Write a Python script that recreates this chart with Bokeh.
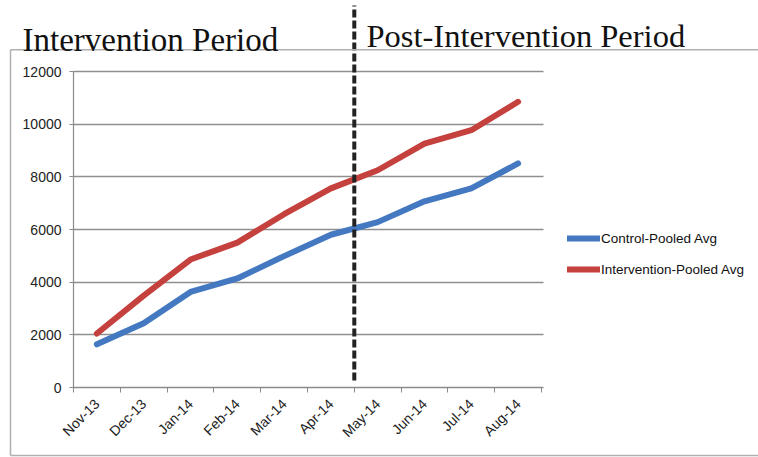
from bokeh.plotting import figure
from bokeh.models import (Range1d, FixedTicker, Label, Arrow, Legend, LegendItem,
                          ColumnDataSource)
from bokeh.embed import file_html
from bokeh.resources import INLINE
import math

months = ["Nov-13", "Dec-13", "Jan-14", "Feb-14", "Mar-14", "Apr-14",
          "May-14", "Jun-14", "Jul-14", "Aug-14"]
control_pooled = [1640, 2440, 3630, 4140, 4990, 5800, 6280, 7070, 7560, 8510]
intervention_pooled = [2050, 3490, 4860, 5500, 6580, 7560, 8250, 9260, 9770, 10850]
y_ticks = [0, 2000, 4000, 6000, 8000, 10000, 12000]
split_after = "Apr-14"

W, H = 758, 457
# where the chart's plot area sits on the canvas (pixels)
PL, PT, PR, PB = 73, 71, 541, 387
YMAX = 12000

n = len(months)

def dx(px):
    return (px - PL) * n / (PR - PL)

def dy(py):
    return (PB - py) * YMAX / (PB - PT)

xpos = [i + 0.5 for i in range(n)]
src = ColumnDataSource(dict(x=xpos, c=control_pooled, iv=intervention_pooled))

p = figure(width=W, height=H, output_backend="svg", toolbar_location=None,
           x_range=Range1d(dx(0), dx(W)), y_range=Range1d(dy(H), dy(0)),
           min_border=0, min_border_left=0, min_border_right=0,
           min_border_top=0, min_border_bottom=0)
p.outline_line_color = None
p.background_fill_color = "white"
p.border_fill_color = "white"

# axes drawn at the data origin
AX = "#8a8a8a"
p.xaxis.fixed_location = 0
p.xaxis.bounds = (0, n)
p.xaxis.ticker = FixedTicker(ticks=xpos, minor_ticks=list(range(n + 1)))
p.xaxis.major_label_overrides = {x: m for x, m in zip(xpos, months)}
p.xaxis.major_label_orientation = math.pi / 4
p.xaxis.major_tick_line_color = None
p.xaxis.minor_tick_line_color = AX
p.xaxis.minor_tick_out = 5
p.xaxis.minor_tick_in = 0
p.xaxis.axis_line_color = AX
p.xaxis.axis_line_width = 1.2
p.xaxis.major_label_text_font = "Liberation Sans"
p.xaxis.major_label_text_font_size = "14px"
p.xaxis.major_label_text_color = "#222222"
p.xaxis.major_label_standoff = 8

p.yaxis.fixed_location = 0
p.yaxis.bounds = (0, YMAX)
p.yaxis.ticker = FixedTicker(ticks=y_ticks, minor_ticks=[])
p.yaxis.major_tick_out = 4
p.yaxis.major_tick_in = 0
p.yaxis.major_tick_line_color = AX
p.yaxis.axis_line_color = AX
p.yaxis.axis_line_width = 1.2
p.yaxis.minor_tick_line_color = None
p.yaxis.major_label_text_font = "Liberation Sans"
p.yaxis.major_label_text_font_size = "14px"
p.yaxis.major_label_text_color = "#222222"
p.yaxis.major_label_standoff = 8

p.xgrid.grid_line_color = None
grid_done = False
try:
    p.ygrid.cross_bounds = (0, n + 0.04)
    grid_done = True
except Exception:
    grid_done = False
if grid_done:
    p.ygrid.ticker = FixedTicker(ticks=y_ticks)
    p.ygrid.grid_line_color = "#8f8f8f"
    p.ygrid.grid_line_width = 1.5
else:
    p.ygrid.grid_line_color = None
    p.segment(x0=0, x1=n + 0.04, y0=y_ticks, y1=y_ticks,
              line_color="#8f8f8f", line_width=1.5)

# series
r_c = p.line("x", "c", source=src, line_color="#4479C2", line_width=6,
             line_join="round", line_cap="round")
r_i = p.line("x", "iv", source=src, line_color="#C5413E", line_width=6,
             line_join="round", line_cap="round")

legend = Legend(items=[LegendItem(label="Control-Pooled Avg", renderers=[r_c]),
                       LegendItem(label="Intervention-Pooled Avg", renderers=[r_i])],
                location=(567, H - 279), padding=0, margin=0, spacing=11,
                glyph_width=33, glyph_height=20, label_height=20, label_standoff=1,
                label_text_font="Liberation Sans", label_text_font_size="13.5px",
                label_text_color="#111111", border_line_color=None,
                background_fill_alpha=0)
p.add_layout(legend, "center")

# period divider
split_x = months.index(split_after) + 1
p.add_layout(Arrow(end=None, x_start=split_x, x_end=split_x,
                   y_start=dy(380), y_end=dy(5),
                   line_color="#222222", line_width=4, line_dash="8 3"))

# outer border
bx0, bx1, by0, by1 = dx(10), dx(W + 5), dy(49.3), dy(455)
for xs, ys, xe, ye in [(bx0, by0, bx1, by0), (bx0, by0, bx0, by1), (bx0, by1, bx1, by1)]:
    p.add_layout(Arrow(end=None, x_start=xs, y_start=ys, x_end=xe, y_end=ye,
                       line_color="#b0b0b0", line_width=1.5))

# period titles
p.add_layout(Label(x=dx(22), y=dy(39.5), text="Intervention Period",
                   text_font="Liberation Serif", text_font_size="33px",
                   text_color="#111111", text_baseline="alphabetic"))
p.add_layout(Label(x=dx(366), y=dy(35), text="Post-Intervention Period",
                   text_font="Liberation Serif", text_font_size="32.5px",
                   text_color="#111111", text_baseline="alphabetic"))

open("out.html", "w").write(file_html(p, INLINE))
